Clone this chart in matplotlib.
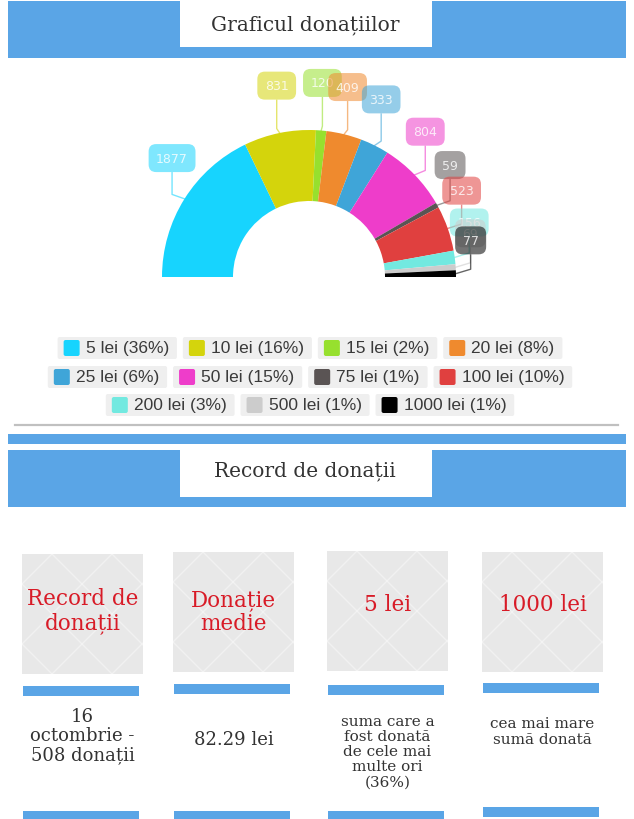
import matplotlib
matplotlib.use('Agg')
import matplotlib.pyplot as plt
from matplotlib.patches import Rectangle, FancyBboxPatch
import numpy as np

# donation amounts and how many times each was given
amounts = ['5 lei', '10 lei', '15 lei', '20 lei', '25 lei', '50 lei',
           '75 lei', '100 lei', '200 lei', '500 lei', '1000 lei']
counts = [1877, 831, 120, 409, 333, 804, 59, 523, 156, 69, 77]
colors = ['#17d4fe', '#d4d40c', '#97e02e', '#ef8a2e', '#3fa5d8', '#ee3dca',
          '#5a5454', '#e0403f', '#72e9e0', '#cccccc', '#000000']

card_titles = ['Record de\ndonații', 'Donație\nmedie', '5 lei', '1000 lei']
card_notes = ['16\noctombrie -\n508 donații', '82.29 lei',
              'suma care a\nfost donată\nde cele mai\nmulte ori\n(36%)',
              'cea mai mare\nsumă donată']

W, H = 634, 820
BLUE = '#5aa5e6'
DARK = '#333333'
SERIF = 'DejaVu Serif'

fig = plt.figure(figsize=(W / 100, H / 100), dpi=100)
bg = fig.add_axes([0, 0, 1, 1])
bg.set_xlim(0, W)
bg.set_ylim(H, 0)
bg.axis('off')


def header(block_top, block_bottom, box_bottom, baseline, title):
    bg.add_patch(Rectangle((8, block_top), 618, block_bottom - block_top, fc=BLUE, ec='none'))
    bg.add_patch(Rectangle((180, block_top - 2), 252, box_bottom - block_top + 2, fc='white', ec='none'))
    bg.text(305, baseline, title, ha='center', va='baseline', fontsize=14.5,
            family=SERIF, color=DARK)


header(2, 59, 48, 30, 'Graficul donațiilor')

# separator + second header
bg.plot([15, 618], [426, 426], color='#c0c0c0', lw=1.6)
bg.add_patch(Rectangle((8, 435), 618, 10, fc=BLUE, ec='none'))
header(451, 508, 498, 476, 'Record de donații')

# ---- half donut ----
cx, cy, R, half = 309, 278, 147, 230
pax = fig.add_axes([(cx - half) / W, (H - cy - half) / H, 2 * half / W, 2 * half / H])
total = sum(counts)
wedges, _ = pax.pie(counts + [total], colors=colors + ['none'], startangle=180,
                    counterclock=False, radius=1,
                    wedgeprops=dict(width=1 - 76 / R, linewidth=0))
wedges[-1].set_visible(False)
lim = half / R
pax.set_xlim(-lim, lim)
pax.set_ylim(-lim, lim)
pax.axis('off')

for i, w in enumerate(wedges[:-1]):
    mid = np.deg2rad((w.theta1 + w.theta2) / 2)
    ex, ey = np.cos(mid), np.sin(mid)
    bx, by = 1.10 * ex, 1.10 * ey + 0.224
    pax.plot([ex, bx, bx], [ey, ey + 0.03, by - 0.1], color=colors[i], alpha=0.6,
             lw=1, zorder=3 + 2 * i, clip_on=False)
    pax.text(bx, by, str(counts[i]), ha='center', va='center', fontsize=9,
             color='white', alpha=0.8, zorder=4 + 2 * i, clip_on=False,
             bbox=dict(boxstyle='round,pad=0.6', fc=colors[i], ec='none', alpha=0.55))

# ---- legend ----
renderer = fig.canvas.get_renderer()
rows = [range(0, 4), range(4, 8), range(8, 11)]
row_y = [349, 378, 406]
gap = 6
for idxs, yc in zip(rows, row_y):
    items = []
    for i in idxs:
        label = f'{amounts[i]} ({round(100 * counts[i] / total)}%)'
        t = bg.text(0, yc, label, fontsize=12.5, family='Liberation Sans',
                    color='#3a3a3a', va='center', ha='left')
        tw = t.get_window_extent(renderer).width
        items.append((i, t, 6 + 16 + 6 + tw + 8))
    x = 310 - (sum(it[2] for it in items) + gap * (len(items) - 1)) / 2
    for i, t, wd in items:
        bg.add_patch(FancyBboxPatch((x, yc - 11), wd, 22, boxstyle='round,pad=0,rounding_size=2',
                                    fc='#efefef', ec='none'))
        bg.add_patch(FancyBboxPatch((x + 6, yc - 8), 16, 16, boxstyle='round,pad=0,rounding_size=2',
                                    fc=colors[i], ec='none'))
        t.set_x(x + 28)
        x += wd + gap

# ---- record cards ----
card_x = [22, 173, 327, 482]
card_top = [555, 553, 552, 553]
title_y = [611, 612, 605, 605]
note_y = [736, 740, 752, 732]
note_size = [13, 13, 11, 11]
bar_y = [687, 685, 686, 684]
bottom_y = [812, 812, 812, 808]
for k in range(4):
    x0, y0 = card_x[k], card_top[k]
    card = Rectangle((x0, y0), 121, 120, fc='#e8e8e8', ec='none')
    bg.add_patch(card)
    tt = np.linspace(0, 120, 2)
    for c in np.arange(-120, 180, 60):
        for ys in (y0 + tt, y0 + 120 - tt):
            ln, = bg.plot(x0 + c + tt + 30, ys, color='white', alpha=0.4, lw=1)
            ln.set_clip_path(card)
    bg.text(x0 + 60.5, title_y[k], card_titles[k], ha='center', va='center', fontsize=15.5,
            family=SERIF, color='#d81b27', linespacing=1.08)
    bg.add_patch(Rectangle((x0 + 1, bar_y[k]), 116, 10, fc=BLUE, ec='none'))
    bg.text(x0 + 60.5, note_y[k], card_notes[k], ha='center', va='center',
            fontsize=note_size[k], family=SERIF, color=DARK, linespacing=1.1)
    bg.add_patch(Rectangle((x0 + 1, bottom_y[k]), 116, 10, fc=BLUE, ec='none'))

fig.savefig('out.png', dpi=100)
